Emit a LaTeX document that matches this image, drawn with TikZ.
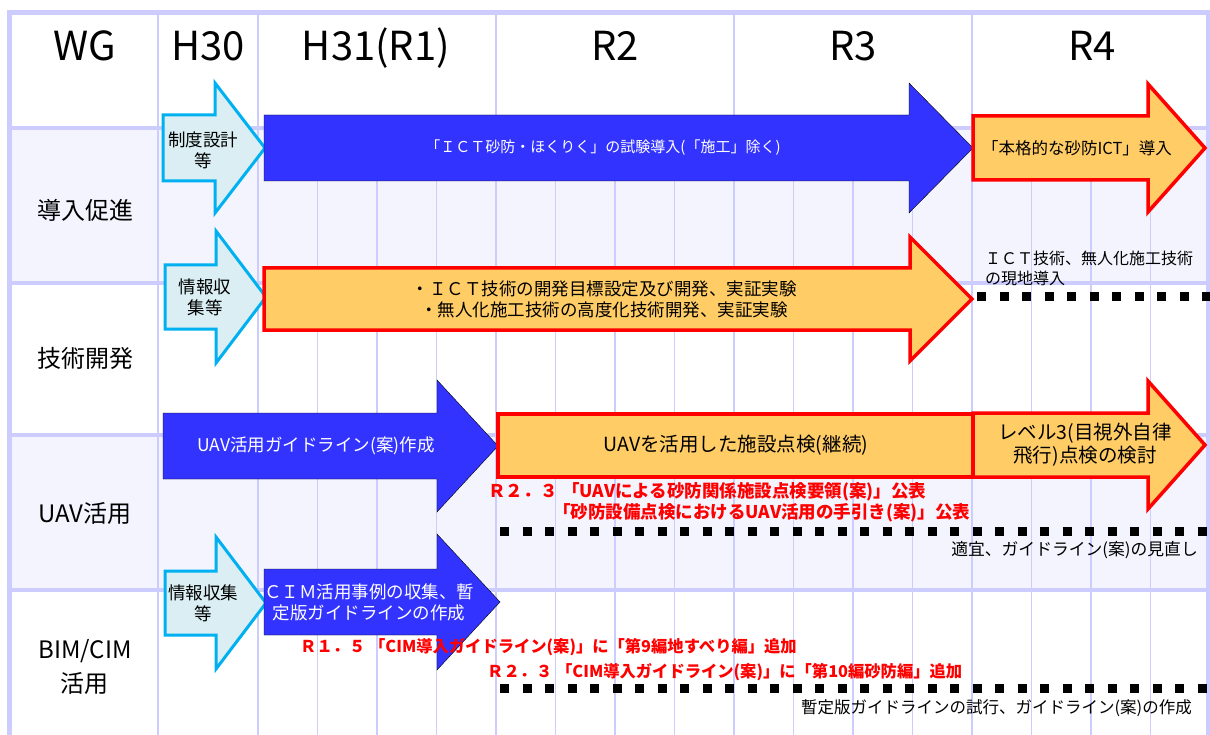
\documentclass[tikz,border=0pt]{standalone}
\usepackage{fontspec}
\setmainfont{Noto Sans CJK JP}
\definecolor{gridc}{HTML}{CCCCFF}
\definecolor{rowbg}{HTML}{F4F4FE}
\definecolor{bblue}{HTML}{3333FF}
\definecolor{org}{HTML}{FFCC66}
\definecolor{lbfill}{HTML}{DAEEF3}
\definecolor{lbline}{HTML}{00B0F0}
\newcommand\wgarrow[7]{\draw[#1] (#2,#5-#6) -- (#3,#5-#6) -- (#3,#5-#7) -- (#4,#5) -- (#3,#5+#7) -- (#3,#5+#6) -- (#2,#5+#6) -- cycle;}
\begin{document}
\begin{tikzpicture}[x=1pt,y=-1pt,
  gridthin/.style={draw=gridc,line width=1.5pt},
  gridthick/.style={draw=gridc,line width=4pt},
  gridframe/.style={draw=gridc,line width=5pt},
  lbarrow/.style={fill=lbfill,draw=lbline,line width=3pt,line join=miter},
  blarrow/.style={fill=bblue},
  orarrow/.style={fill=org,draw=red,line width=3.5pt,line join=miter},
  dots/.style={line width=9pt,dash pattern=on 9pt off 13.5pt},
  txt/.style={inner sep=0pt,align=center,font=\fontsize{17.5}{21}\selectfont},
  wtxt/.style={txt,text=white},
  redtxt/.style={inner sep=0pt,anchor=west,text=red,font=\fontsize{17.5}{20}\selectfont\bfseries},
  redsm/.style={redtxt,font=\fontsize{16.3}{20}\selectfont\bfseries},
  hdr/.style={inner sep=0pt,anchor=base,font=\fontsize{40}{44}\selectfont},
  lbl/.style={inner sep=0pt,align=center,font=\fontsize{24}{34}\selectfont}]
\useasboundingbox (0,0) rectangle (1210,735);
\fill[white] (0,0) rectangle (1210,735);
\fill[rowbg] (9,128) rectangle (1210,283);
\fill[rowbg] (9,435) rectangle (1210,590);
% grid
\foreach \x in {158,258,496,734,972} \draw[gridthin] (\x,12) -- (\x,128);
\draw[gridthin] (158,128) -- (158,735);
\foreach \k in {0,...,15} \draw[gridthin] ({258+59.5*\k},128) -- ({258+59.5*\k},735);
\foreach \y in {128,283,435,590} \draw[gridthick] (9,\y) -- (1210,\y);
\draw[gridframe] (9.5,735) -- (9.5,12.5) -- (1210,12.5);
\draw[gridframe] (1208.5,12.5) -- (1208.5,735);
% headers
\node[hdr] (h0) at (85,61) {WG};
\node[hdr] (h1) at (208,61) {H30};
\node[hdr] (h2) at (376,61) {H31(R1)};
\node[hdr] (h3) at (615,61) {R2};
\node[hdr] (h4) at (853,61) {R3};
\node[hdr] (h5) at (1092,61) {R4};
% row labels
\node[lbl] (r1) at (85,210) {導入促進};
\node[lbl] (r2) at (85,358) {技術開発};
\node[lbl] (r3) at (85,513) {UAV活用};
\node[lbl] (r4) at (85,667) {BIM/CIM\\活用};
% row 1
\wgarrow{lbarrow}{163}{215}{265}{148}{33}{65}
\wgarrow{blarrow}{264}{909}{973}{148}{33}{65}
\wgarrow{orarrow}{973}{1148}{1205}{148}{32}{64}
\node[txt] (n1) at (203,150) {制度設計\\等};
\node[wtxt,font=\fontsize{15}{18}\selectfont] (n2) at (603,148) {「ＩＣＴ砂防・ほくりく」の試験導入(「施工」除く)};
\node[txt,font=\fontsize{16.5}{20}\selectfont] (n3) at (1077,148) {「本格的な砂防ICT」導入};
% row 2
\wgarrow{lbarrow}{165}{216}{266}{297}{32}{66}
\wgarrow{orarrow}{264}{910}{972}{299}{31}{62}
\node[txt] (n4) at (205,297) {情報収\\集等};
\node[txt] (n5) at (604,299) {・ＩＣＴ技術の開発目標設定及び開発、実証実験\\・無人化施工技術の高度化技術開発、実証実験};
\node[txt,anchor=west,align=left,font=\fontsize{16}{20}\selectfont] (n6) at (985,268) {ＩＣＴ技術、無人化施工技術\\の現地導入};
\coordinate (d2a) at (977,297);
\coordinate (d2b) at (1210,297);
\draw[dots] (d2a) -- (d2b);
% row 3
\wgarrow{blarrow}{163}{437}{498}{446}{33}{66}
\draw[orarrow] (498,414) rectangle (973,477);
\wgarrow{orarrow}{973}{1148}{1205}{445}{32}{64}
\node[wtxt] (n7) at (316,446) {UAV活用ガイドライン(案)作成};
\node[txt,font=\fontsize{19.5}{23}\selectfont] (n8) at (736,445) {UAVを活用した施設点検(継続)};
\node[txt,font=\fontsize{19.5}{23}\selectfont] (n9) at (1085,445) {レベル3(目視外自律\\飛行)点検の検討};
\node[redtxt] (n10) at (488,492) {Ｒ２．３ 「UAVによる砂防関係施設点検要領(案)」公表};
\node[redtxt] (n11) at (553,513) {「砂防設備点検におけるUAV活用の手引き(案)」公表};
\coordinate (d3a) at (500,531);
\coordinate (d3b) at (1210,531);
\draw[dots] (d3a) -- (d3b);
\node[txt,anchor=east,font=\fontsize{16.8}{20}\selectfont] (n12) at (1198,550) {適宜、ガイドライン(案)の見直し};
% row 4
\wgarrow{lbarrow}{165}{216}{266}{603}{32}{66}
\wgarrow{blarrow}{264}{437}{500}{602}{33}{68}
\node[txt] (n13) at (203,603) {情報収集\\等};
\node[wtxt] (n14) at (369,602) {ＣＩＭ活用事例の収集、暫\\定版ガイドラインの作成};
\node[redsm] (n15) at (300,647) {Ｒ１．５ 「CIM導入ガイドライン(案)」に「第9編地すべり編」追加};
\node[redsm] (n16) at (487,672) {Ｒ２．３ 「CIM導入ガイドライン(案)」に「第10編砂防編」追加};
\coordinate (d4a) at (500,688);
\coordinate (d4b) at (1210,688);
\draw[dots] (d4a) -- (d4b);
\node[txt,anchor=east,font=\fontsize{16.5}{20}\selectfont] (n17) at (1192,708) {暫定版ガイドラインの試行、ガイドライン(案)の作成};
\end{tikzpicture}
\end{document}
